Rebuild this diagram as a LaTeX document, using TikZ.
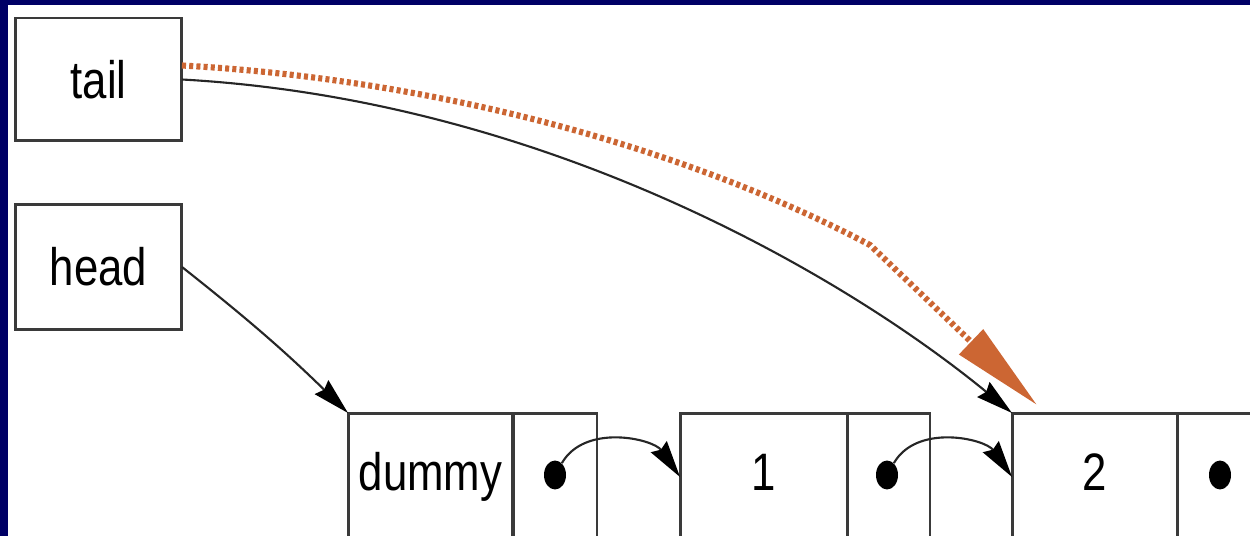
\documentclass[tikz,border=0pt]{standalone}
\usepackage{fontspec}
\setmainfont{Liberation Sans}[FakeStretch=0.83]
\usetikzlibrary{arrows.meta,shapes.geometric}
\definecolor{navy}{HTML}{000066}
\definecolor{orng}{HTML}{CC6633}
\definecolor{boxline}{HTML}{3A3A3A}
\begin{document}
\begin{tikzpicture}[x=0.02cm,y=-0.02cm,
  box/.style={draw=boxline,line width=1.7pt,inner sep=0pt,outer sep=0pt,font=\fontsize{30}{36}\selectfont},
  cell/.style={box,minimum height=2.94cm},
  lab/.style={anchor=base,font=\fontsize{30}{36}\selectfont,inner sep=0pt},
  dotn/.style={ellipse,fill=black,inner sep=0pt,minimum width=0.44cm,minimum height=0.58cm},
  link/.style={draw=black!85,line width=1.2pt,-{Stealth[length=21pt,width=11pt,inset=2pt,black]}},
  hint/.style={draw=orng,line width=3.5pt,dash pattern=on 2.3pt off 1.8pt,-{Triangle[length=52pt,width=19pt]}}
]
\useasboundingbox (0,0) rectangle (1250,536);
\clip (0,0) rectangle (1250,536);
\fill[navy] (0,0) rectangle (1250,536);
\fill[white] (8,5) rectangle (1260,546);

\node[box,minimum width=3.34cm,minimum height=2.46cm] (tail) at (98.5,79.5) {tail};
\node[box,minimum width=3.34cm,minimum height=2.52cm] (head) at (98.5,267) {head};

\node[cell,minimum width=3.3cm] (v0) at (430.5,486.5) {};
\node[cell,minimum width=1.68cm] (p0) at (555,486.5) {};
\node[cell,minimum width=3.34cm] (v1) at (763.5,486.5) {};
\node[cell,minimum width=1.66cm] (p1) at (888.5,486.5) {};
\node[cell,minimum width=3.3cm] (v2) at (1094.5,486.5) {};
\node[cell,minimum width=1.68cm] (p2) at (1219,486.5) {};

\node[lab] (t0) at (430.5,490) {dummy};
\node[lab] (t1) at (763.5,490) {1};
\node[lab] (t2) at (1094.5,490) {2};

\node[dotn] (d0) at (555,475) {};
\node[dotn] (d1) at (887,475) {};
\node[dotn] (d2) at (1220,475) {};

\coordinate (otip) at (1037,405);

\draw[link] (head.east) to[bend left=3] (v0.north west);
\draw[link] (tail.east) .. controls (550,100) and (850,280) .. (v2.north west);
\draw[link] (d0) to[out=60,in=125] ([yshift=-1.28cm]v1.north west);
\draw[link] (d1) to[out=60,in=125] ([yshift=-1.28cm]v2.north west);
\draw[hint] ([yshift=0.28cm]tail.east) .. controls (450,80) and (700,155) .. (870,245) -- (otip);
\end{tikzpicture}
\end{document}
